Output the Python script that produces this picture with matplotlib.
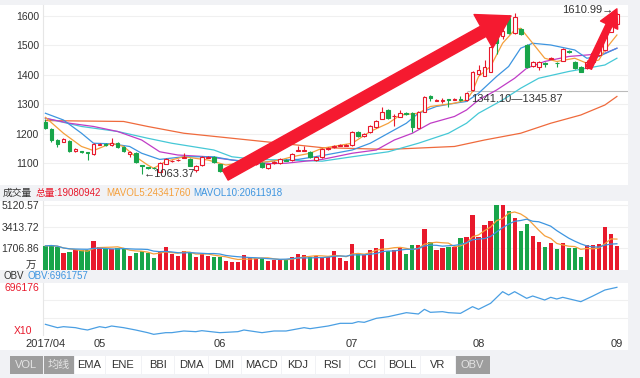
import numpy as np
import pandas as pd
import matplotlib
matplotlib.use('Agg')
import matplotlib.pyplot as plt
from matplotlib.patches import Rectangle

plt.rcParams['font.family'] = ['Liberation Sans', 'Noto Sans CJK SC', 'DejaVu Sans']

# 日K 数据 (2017/04/18 - 2017/09/01)
opens = [1240, 1216, 1178, 1172, 1175, 1142, 1140, 1136, 1131, 1162,
         1165, 1161, 1168, 1155, 1131, 1134, 1092, 1085, 1084, 1070,
         1097, 1106, 1109, 1118, 1114, 1076, 1093, 1118, 1120, 1096,
         1066, 1086, 1088, 1093, 1095, 1096, 1100, 1083, 1099, 1100,
         1111, 1110, 1142, 1142, 1137, 1110, 1120, 1147, 1154, 1158,
         1159, 1161, 1205, 1190, 1205, 1222, 1250, 1280, 1258, 1257,
         1271, 1270, 1220, 1274, 1327, 1312, 1312, 1316, 1315, 1318,
         1314, 1347, 1403, 1396, 1410, 1530, 1530, 1593, 1542, 1556,
         1501, 1430, 1427, 1439, 1455, 1441, 1447, 1480, 1444, 1427,
         1423, 1444, 1467, 1484, 1546, 1573]
closes = [1220, 1178, 1165, 1182, 1141, 1146, 1137, 1134, 1165, 1166,
          1161, 1168, 1155, 1141, 1137, 1103, 1090, 1083, 1082, 1100,
          1114, 1108, 1111, 1121, 1090, 1090, 1120, 1121, 1103, 1073,
          1083, 1092, 1094, 1103, 1100, 1098, 1086, 1096, 1103, 1114,
          1108, 1131, 1145, 1145, 1120, 1120, 1147, 1150, 1158, 1160,
          1161, 1205, 1190, 1200, 1226, 1243, 1274, 1253, 1261, 1270,
          1268, 1222, 1274, 1325, 1322, 1315, 1315, 1313, 1318, 1315,
          1338, 1410, 1416, 1427, 1495, 1508, 1550, 1542, 1597, 1539,
          1427, 1444, 1444, 1437, 1458, 1439, 1488, 1476, 1423, 1410,
          1444, 1474, 1488, 1542, 1570, 1608]
highs = [1250, 1218, 1180, 1185, 1178, 1150, 1142, 1138, 1168, 1168,
         1167, 1185, 1170, 1157, 1140, 1136, 1094, 1087, 1085, 1102,
         1116, 1110, 1113, 1133, 1116, 1092, 1122, 1125, 1124, 1098,
         1085, 1095, 1097, 1105, 1104, 1102, 1102, 1098, 1106, 1116,
         1113, 1133, 1157, 1157, 1140, 1122, 1150, 1153, 1162, 1163,
         1163, 1207, 1207, 1202, 1228, 1245, 1290, 1282, 1265, 1280,
         1273, 1272, 1276, 1327, 1330, 1318, 1322, 1318, 1320, 1326,
         1341.10, 1412, 1432, 1450, 1498, 1535, 1576, 1603, 1610, 1560,
         1505, 1447, 1447, 1444, 1460, 1442, 1492, 1484, 1447, 1430,
         1450, 1476, 1490, 1545, 1572, 1610.99]
lows = [1215, 1172, 1155, 1170, 1138, 1138, 1134, 1110, 1128, 1160,
        1158, 1158, 1152, 1138, 1120, 1100, 1063.37, 1080, 1080, 1068,
        1095, 1102, 1107, 1116, 1088, 1068, 1090, 1116, 1100, 1070,
        1065, 1083, 1086, 1090, 1092, 1093, 1084, 1081, 1097, 1098,
        1105, 1108, 1140, 1140, 1118, 1108, 1118, 1145, 1152, 1156,
        1157, 1159, 1188, 1188, 1203, 1220, 1248, 1250, 1226, 1255,
        1264, 1205, 1218, 1272, 1310, 1310, 1303, 1290, 1313, 1309,
        1312, 1345.87, 1400, 1394, 1408, 1470, 1520, 1540, 1538, 1535,
        1423, 1425, 1416, 1425, 1453, 1425, 1445, 1474, 1420, 1408,
        1420, 1442, 1465, 1482, 1544, 1570]
# 成交量 (万)
volumes = [1900, 1950, 1780, 1310, 1390, 1570, 1570, 1570, 2280, 1840,
           1650, 1650, 1700, 1700, 1100, 1360, 1520, 1360, 970, 1440,
           1840, 1230, 1100, 1500, 1390, 1050, 1260, 1100, 1050, 1050,
           735, 656, 656, 1180, 1050, 920, 920, 710, 790, 790,
           870, 1050, 1230, 1180, 1050, 1130, 970, 1050, 1500, 970,
           735, 2020, 1310, 1180, 1570, 1700, 2440, 1500, 1575, 1700,
           1290, 1970, 1970, 3230, 2180, 1575, 1760, 1840, 1840, 2490,
           2570, 4330, 2570, 3540, 3880, 5120.57, 5110, 4650, 4070, 3100,
           3620, 2700, 2180, 1840, 2100, 1630, 2100, 1700, 1700, 1000,
           1970, 1970, 2020, 3400, 2870, 1908.09]

month_pos = [0, 9, 29, 51, 72, 95]
month_labels = ['2017/04', '05', '06', '07', '08', '09']

# 均线 (读图取样)
ma5_idx = [0, 3, 6, 8, 11, 13, 15, 17, 18, 20, 23, 27, 30, 32, 37, 39, 41, 44, 46, 51,
           54, 57, 59, 62, 64, 68, 70, 71, 72, 74, 76, 78, 79, 81, 83, 85, 88, 90, 92, 93, 95]
ma5_val = [1255, 1201, 1156, 1142, 1167, 1156, 1121, 1093, 1082, 1105, 1121, 1110, 1093, 1099,
           1104, 1110, 1121, 1133, 1150, 1167, 1207, 1235, 1263, 1269, 1292, 1303, 1314, 1343,
           1394, 1428, 1507, 1552, 1558, 1507, 1456, 1445, 1456, 1439, 1450, 1484, 1535]
ma10_idx = [0, 3, 6, 8, 11, 14, 16, 19, 23, 28, 31, 36, 39, 42, 46, 51, 54, 57, 60, 62,
            65, 68, 70, 72, 75, 77, 79, 81, 84, 88, 90, 92, 95]
ma10_val = [1269, 1246, 1201, 1167, 1165, 1156, 1133, 1112, 1121, 1121, 1110, 1101, 1110, 1112,
            1125, 1144, 1167, 1201, 1235, 1269, 1292, 1303, 1309, 1337, 1394, 1428, 1490, 1507,
            1501, 1484, 1456, 1462, 1490]
ma20_idx = [0, 4, 8, 12, 16, 19, 22, 27, 31, 36, 40, 46, 51, 55, 58, 61, 64, 68, 70, 72,
            75, 78, 80, 83, 87, 90, 93, 95]
ma20_val = [1252, 1235, 1224, 1207, 1178, 1138, 1127, 1121, 1110, 1097, 1099, 1112, 1133, 1144,
            1178, 1201, 1235, 1258, 1280, 1314, 1348, 1388, 1422, 1445, 1462, 1467, 1473, 1490]
ma30_idx = [0, 6, 12, 17, 21, 28, 31, 35, 40, 46, 51, 57, 62, 67, 70, 72, 76, 79, 82, 87, 90, 93, 95]
ma30_val = [1252, 1224, 1207, 1184, 1167, 1144, 1121, 1112, 1110, 1106, 1121, 1138, 1167, 1201,
            1235, 1269, 1314, 1354, 1388, 1411, 1422, 1433, 1456]
ma60_idx = [0, 13, 17, 23, 31, 39, 46, 57, 68, 73, 79, 84, 89, 93, 95]
ma60_val = [1244, 1241, 1224, 1201, 1184, 1167, 1152, 1146, 1156, 1178, 1201, 1235, 1263, 1297, 1326]

# OBV (读图取样)
obv_idx = [0, 2, 3, 5, 6, 7, 9, 10, 11, 13, 15, 17, 18, 20, 21, 23, 25, 26, 29, 32,
           33, 36, 38, 40, 43, 44, 47, 49, 51, 52, 53, 55, 57, 60, 62, 63, 64, 66, 67, 69,
           71, 72, 74, 76, 77, 78, 80, 81, 83, 84, 85, 86, 89, 91, 93, 95]
obv_val = [30000, -30000, -12000, -30000, -54000, -72000, -12000, -30000, 0, -30000,
           -72000, -120000, -150000, -120000, -120000, -90000, -102000, -84000, -120000, -102000,
           -72000, -120000, -90000, -90000, -30000, -48000, 0, 48000, 48000, 78000,
           66000, 138000, 168000, 240000, 216000, 300000, 246000, 258000, 240000, 228000,
           348000, 300000, 408000, 618000, 558000, 618000, 498000, 540000, 468000, 516000,
           486000, 516000, 438000, 540000, 648000, 696176]

RED = '#e8192c'
GREEN = '#18a54a'
C_MA5 = '#f5a03c'
C_MA10 = '#3d95e0'
C_MA20 = '#c03cc6'
C_MA30 = '#45c8d6'
C_MA60 = '#ef6a3c'
TXT = '#333333'
STRIP = '#f1f2f5'

W, H = 640, 378


def fy(y):
    return 1 - y / H


fig = plt.figure(figsize=(W / 100, H / 100), dpi=100)
fig.set_facecolor('white')

# 背景条
for (x0, y0, x1, y1) in [(0, 0, W, 5), (0, 185, W, 201), (0, 270, W, 283),
                         (0, 350, W, H), (628, 0, W, 350)]:
    fig.add_artist(Rectangle((x0 / W, fy(y1)), (x1 - x0) / W, (y1 - y0) / H,
                             transform=fig.transFigure, color=STRIP, lw=0, zorder=0))

o = np.array(opens, float)
c = np.array(closes, float)
h = np.array(highs, float)
l = np.array(lows, float)
v = np.array(volumes, float)
x = np.arange(len(c))
up = c >= o
cols = np.where(up, RED, GREEN)
xlim = (-0.4, (628 - 45) / 6.02)

# ---- 主图 K线 ----
ax = fig.add_axes([43 / W, fy(185), 585 / W, 180 / H])
ax.set_xlim(*xlim)
ax.set_ylim(1025, 1637)
ax.vlines(x, l, h, colors=cols, linewidth=0.8, zorder=3)
body = np.maximum(np.abs(c - o), 1.5)
ax.bar(x, body, bottom=np.minimum(o, c), width=0.62,
       color=np.where(up, 'white', GREEN), edgecolor=cols, linewidth=0.8, zorder=4)
for idx, val, col in [(ma60_idx, ma60_val, C_MA60), (ma30_idx, ma30_val, C_MA30),
                      (ma20_idx, ma20_val, C_MA20), (ma10_idx, ma10_val, C_MA10),
                      (ma5_idx, ma5_val, C_MA5)]:
    ax.plot(idx, val, color=col, lw=0.9, zorder=2)

ax.set_yticks([1100, 1200, 1300, 1400, 1500, 1600])
ax.tick_params(axis='y', length=0, labelsize=7.5, labelcolor=TXT, pad=3)
ax.set_xticks([])
ax.grid(axis='y', color='#f0f0f0', lw=0.8)
ax.set_axisbelow(True)
for s in ['top', 'right', 'bottom']:
    ax.spines[s].set_visible(False)
ax.spines['left'].set_color('#e6e6e6')

# 缺口线 & 标注
ax.hlines(lows[71], 70, xlim[1], color='#bbbbbb', lw=0.8, zorder=1)
ax.text(70.7, 1317, '1341.10\u20141345.87', fontsize=8, color=TXT, va='center', ha='left', zorder=6)
low_i = int(np.argmin(l))
ax.text(low_i + 0.4, lows[low_i], '\u21901063.37', fontsize=8, color=TXT, va='center', ha='left', zorder=6)
high_i = int(np.argmax(h))
ax.text(high_i - 0.6, highs[high_i] + 8, '1610.99\u2192', fontsize=8, color=TXT, va='center', ha='right', zorder=6)

# 红色箭头
ax.annotate('', xy=(77.4, 1600), xytext=(29.9, 1059),
            arrowprops=dict(arrowstyle='simple,head_length=1.9,head_width=2.3,tail_width=0.7',
                            color='#f51a30', mutation_scale=12, shrinkA=0, shrinkB=0), zorder=7)
ax.annotate('', xy=(95.0, 1624), xytext=(90.3, 1423),
            arrowprops=dict(arrowstyle='simple,head_length=2.0,head_width=2.1,tail_width=0.7',
                            color='#f51a30', mutation_scale=6.5, shrinkA=0, shrinkB=0), zorder=7)

# ---- 成交量 ----
axv = fig.add_axes([43 / W, fy(270), 585 / W, 69 / H])
axv.set_xlim(*xlim)
axv.set_ylim(0, 5430)
axv.bar(x, v, width=0.7, color=cols, zorder=3)
mavol5 = pd.Series(v).rolling(5, min_periods=1).mean()
mavol10 = pd.Series(v).rolling(10, min_periods=1).mean()
axv.plot(x, mavol5, color=C_MA5, lw=0.9, zorder=4)
axv.plot(x, mavol10, color=C_MA10, lw=0.9, zorder=4)
axv.set_yticks([1706.86, 3413.72, 5120.57])
axv.set_yticklabels(['1706.86', '3413.72', '5120.57'])
axv.tick_params(axis='y', length=0, labelsize=7.5, labelcolor=TXT, pad=3)
axv.set_xticks([])
axv.grid(axis='y', color='#f0f0f0', lw=0.8)
axv.set_axisbelow(True)
for s in ['top', 'right', 'bottom']:
    axv.spines[s].set_visible(False)
axv.spines['left'].set_color('#e6e6e6')
axv.text(-0.012, 0.06, '万', transform=axv.transAxes, fontsize=7.5, color=TXT, ha='right', va='center')

# ---- OBV ----
axo = fig.add_axes([43 / W, fy(335), 585 / W, 52 / H])
axo.set_xlim(*xlim)
axo.set_ylim(-162000, 774000)
axo.plot(obv_idx, obv_val, color='#4a9fe3', lw=0.9)
for yy in np.linspace(-162000, 774000, 4)[1:-1]:
    axo.axhline(yy, color='#f0f0f0', lw=0.8, zorder=0)
axo.set_yticks([obv_val[-1]])
axo.set_yticklabels(['696176'])
axo.tick_params(axis='y', length=0, labelsize=7.5, labelcolor=RED, pad=3)
axo.set_xticks(month_pos)
axo.set_xticklabels(month_labels)
axo.tick_params(axis='x', length=0, labelsize=8, labelcolor=TXT, pad=3)
for s in ['top', 'right', 'bottom']:
    axo.spines[s].set_visible(False)
axo.spines['left'].set_color('#e6e6e6')
axo.text(-0.018, 0.07, 'X10', transform=axo.transAxes, fontsize=7.5, color=RED, ha='right', va='center')

# ---- 标题行 ----
fig.text(3 / W, fy(193), '成交量', fontsize=7, color=TXT, va='center')
fig.text(36 / W, fy(193), '总量:19080942', fontsize=7, color=RED, va='center')
fig.text(106 / W, fy(193), 'MAVOL5:24341760', fontsize=7, color=C_MA5, va='center')
fig.text(193 / W, fy(193), 'MAVOL10:20611918', fontsize=7, color=C_MA10, va='center')
fig.text(3 / W, fy(276), 'OBV', fontsize=7, color=TXT, va='center')
fig.text(28 / W, fy(276), 'OBV:6961757', fontsize=7, color=C_MA10, va='center')

# ---- 指标按钮 ----
btn_labels = ['VOL', '均线', 'EMA', 'ENE', 'BBI', 'DMA', 'DMI', 'MACD', 'KDJ',
              'RSI', 'CCI', 'BOLL', 'VR', 'OBV']
btn_edges = [9, 43, 74, 105, 141, 174, 208, 241, 281, 315, 349, 384, 420, 455, 490]
active = {'VOL', '均线', 'OBV'}
for k, lab in enumerate(btn_labels):
    x0, x1 = btn_edges[k], btn_edges[k + 1]
    on = lab in active
    fig.add_artist(Rectangle(((x0 + 0.5) / W, fy(374)), (x1 - x0 - 1) / W, 18 / H,
                             transform=fig.transFigure, lw=0,
                             color='#9d9d9d' if on else 'white', zorder=1))
    fig.text((x0 + x1) / 2 / W, fy(365), lab, fontsize=8, ha='center', va='center',
             color='#e4e4e4' if on else TXT, zorder=2)

fig.savefig('out.png', dpi=100, facecolor='white')
